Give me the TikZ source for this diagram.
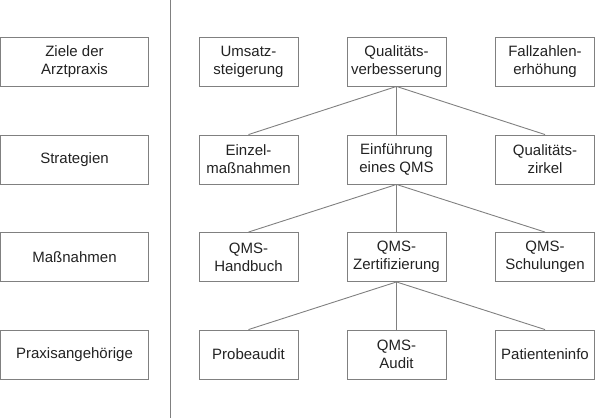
\documentclass[tikz,border=0pt]{standalone}
\usepackage{fontspec}
\setmainfont{Liberation Sans}
\definecolor{boxgray}{HTML}{808080}
\definecolor{txt}{HTML}{222222}
\begin{document}
\begin{tikzpicture}[x=1pt,y=-1pt,
  box/.style={draw=boxgray,line width=0.9pt,minimum width=99pt,minimum height=49pt,inner sep=0pt,align=center,text=txt,font=\fontsize{15}{18}\selectfont},
  wbox/.style={box,minimum width=148pt},
  conn/.style={draw=boxgray,line width=0.9pt}]
\useasboundingbox (0,0) rectangle (595,418);
\draw[conn] (170,0) coordinate (vt) -- (170,418) coordinate (vb);
% left column
\node[wbox] (l1) at (74.5,61.5) {Ziele der\\Arztpraxis};
\node[wbox] (l2) at (74.5,159.5) {Strategien};
\node[wbox] (l3) at (74.5,257) {Maßnahmen};
\node[wbox] (l4) at (74.5,354.5) {Praxisangehörige};
% row 1
\node[box] (a1) at (248.5,61.5) {Umsatz-\\steigerung};
\node[box] (a2) at (396.5,61.5) {Qualitäts-\\verbesserung};
\node[box] (a3) at (545,61.5) {Fallzahlen-\\erhöhung};
% row 2
\node[box] (b1) at (248.5,159.5) {Einzel-\\maßnahmen};
\node[box] (b2) at (396.5,159.5) {Einführung\\eines QMS};
\node[box] (b3) at (545,159.5) {Qualitäts-\\zirkel};
% row 3
\node[box] (c1) at (248.5,257) {QMS-\\Handbuch};
\node[box] (c2) at (396.5,257) {QMS-\\Zertifizierung};
\node[box] (c3) at (545,257) {QMS-\\Schulungen};
% row 4
\node[box] (d1) at (248.5,354.5) {Probeaudit};
\node[box] (d2) at (396.5,354.5) {QMS-\\Audit};
\node[box] (d3) at (545,354.5) {Patienteninfo};
% connectors
\foreach \p/\c in {a2/b,b2/c,c2/d}{
  \draw[conn] (\p.south) -- (\c1.north);
  \draw[conn] (\p.south) -- (\c2.north);
  \draw[conn] (\p.south) -- (\c3.north);
}
\end{tikzpicture}
\end{document}
